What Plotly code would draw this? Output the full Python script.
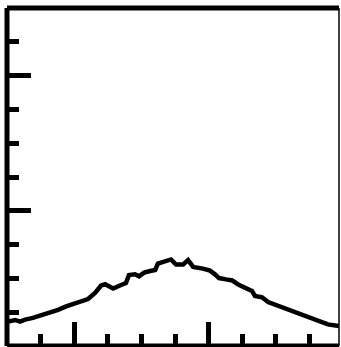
import plotly.graph_objects as go

# curve data
x_vals = [0.03, 0.24, 0.39, 0.54, 0.77, 1.01, 1.28, 1.52, 1.76, 1.97,
          2.17, 2.41, 2.62, 2.80, 2.92, 3.04, 3.16, 3.36, 3.54, 3.63,
          3.81, 3.93, 4.08, 4.26, 4.41, 4.49, 4.73, 4.88, 5.03, 5.24,
          5.39, 5.54, 5.83, 6.04, 6.19, 6.31, 6.52, 6.70, 6.88, 7.11,
          7.29, 7.38, 7.59, 7.77, 8.01, 8.19, 8.39, 8.63, 8.87, 9.11,
          9.32, 9.55, 9.88]
y_vals = [0.72, 0.77, 0.72, 0.78, 0.83, 0.90, 1.01, 1.07, 1.17, 1.24,
          1.30, 1.39, 1.57, 1.79, 1.83, 1.75, 1.70, 1.79, 1.86, 2.10,
          2.12, 2.06, 2.17, 2.22, 2.25, 2.44, 2.50, 2.56, 2.41, 2.41,
          2.54, 2.34, 2.29, 2.23, 2.12, 2.01, 1.97, 1.94, 1.82, 1.73,
          1.63, 1.48, 1.44, 1.30, 1.21, 1.14, 1.05, 0.98, 0.90, 0.81,
          0.71, 0.64, 0.59]

x_major = [2, 6]
x_minor = [1, 3, 4, 5, 7, 8, 9]
y_major = [4, 8]
y_minor = [1, 2, 3, 5, 6, 7, 9]
x_range = [0, 9.88]
y_range = [0, 10.0]

fig = go.Figure()
fig.add_trace(go.Scatter(x=x_vals, y=y_vals, mode="lines",
                         line=dict(color="black", width=4.5), hoverinfo="skip"))

axis_common = dict(showgrid=False, zeroline=False, showline=False,
                   showticklabels=False, ticks="inside", tickcolor="black",
                   ticklen=24, tickwidth=4.5, tickmode="array")

fig.update_xaxes(range=x_range, tickvals=x_major,
                 minor=dict(tickmode="array", tickvals=x_minor, ticks="inside",
                            ticklen=12, tickwidth=4.5, tickcolor="black", showgrid=False),
                 **axis_common)
fig.update_yaxes(range=y_range, tickvals=y_major,
                 minor=dict(tickmode="array", tickvals=y_minor, ticks="inside",
                            ticklen=12, tickwidth=4.5, tickcolor="black", showgrid=False),
                 **axis_common)

frame = [
    dict(x0=0, x1=0, y0=0, y1=1, w=5),
    dict(x0=0, x1=1, y0=1, y1=1, w=5),
    dict(x0=0, x1=1, y0=0, y1=0, w=5),
    dict(x0=1, x1=1, y0=0, y1=1, w=1.5),
]
for f in frame:
    fig.add_shape(type="line", xref="paper", yref="paper",
                  x0=f["x0"], x1=f["x1"], y0=f["y0"], y1=f["y1"],
                  line=dict(color="black", width=f["w"]), layer="above")

fig.update_layout(width=341, height=347, margin=dict(l=7, r=2, t=8, b=1),
                  paper_bgcolor="white", plot_bgcolor="white", showlegend=False)

fig.write_html("out.html", config={"displayModeBar": False})
